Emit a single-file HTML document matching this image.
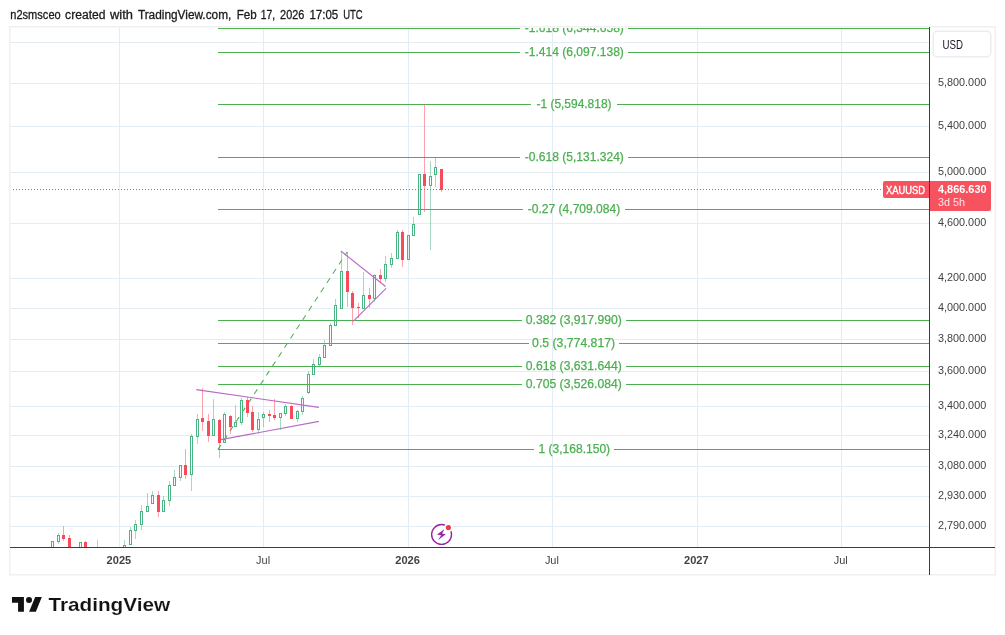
<!DOCTYPE html><html><head><meta charset="utf-8"><title>XAUUSD</title>
<style>html,body{margin:0;padding:0;background:#fff;}body{width:1005px;height:635px;overflow:hidden;font-family:"Liberation Sans",sans-serif;}svg{display:block;will-change:transform;}text{font-family:"Liberation Sans",sans-serif;}</style></head><body>
<svg width="1005" height="635" viewBox="0 0 1005 635">
<rect width="1005" height="635" fill="#fff"/>
<text x="10.3" y="19" font-size="12" fill="#1c1c1c" stroke="#1c1c1c" stroke-width="0.3" textLength="50.4" lengthAdjust="spacingAndGlyphs">n2smsceo</text>
<text x="65.1" y="19" font-size="12" fill="#1c1c1c" stroke="#1c1c1c" stroke-width="0.3" textLength="40.4" lengthAdjust="spacingAndGlyphs">created</text>
<text x="110" y="19" font-size="12" fill="#1c1c1c" stroke="#1c1c1c" stroke-width="0.3" textLength="22.9" lengthAdjust="spacingAndGlyphs">with</text>
<text x="137.9" y="19" font-size="12" fill="#1c1c1c" stroke="#1c1c1c" stroke-width="0.3" textLength="93.4" lengthAdjust="spacingAndGlyphs">TradingView.com,</text>
<text x="236.7" y="19" font-size="12" fill="#1c1c1c" stroke="#1c1c1c" stroke-width="0.3" textLength="19.9" lengthAdjust="spacingAndGlyphs">Feb</text>
<text x="260.8" y="19" font-size="12" fill="#1c1c1c" stroke="#1c1c1c" stroke-width="0.3" textLength="14.3" lengthAdjust="spacingAndGlyphs">17,</text>
<text x="280.1" y="19" font-size="12" fill="#1c1c1c" stroke="#1c1c1c" stroke-width="0.3" textLength="24.3" lengthAdjust="spacingAndGlyphs">2026</text>
<text x="309.4" y="19" font-size="12" fill="#1c1c1c" stroke="#1c1c1c" stroke-width="0.3" textLength="28.8" lengthAdjust="spacingAndGlyphs">17:05</text>
<text x="343.2" y="19" font-size="12" fill="#1c1c1c" stroke="#1c1c1c" stroke-width="0.3" textLength="19.5" lengthAdjust="spacingAndGlyphs">UTC</text>
<rect x="9.75" y="26.75" width="985.5" height="548" fill="none" stroke="#f0f0f1" stroke-width="1.5"/>
<defs><clipPath id="pane"><rect x="11" y="28" width="918" height="519"/></clipPath></defs>
<g shape-rendering="crispEdges" fill="#e4edf3">
<rect x="119" y="28" width="1" height="519"/>
<rect x="263" y="28" width="1" height="519"/>
<rect x="408" y="28" width="1" height="519"/>
<rect x="552" y="28" width="1" height="519"/>
<rect x="697" y="28" width="1" height="519"/>
<rect x="841" y="28" width="1" height="519"/>
<rect x="10" y="42" width="919" height="1"/>
<rect x="10" y="83" width="919" height="1"/>
<rect x="10" y="126" width="919" height="1"/>
<rect x="10" y="172" width="919" height="1"/>
<rect x="10" y="223" width="919" height="1"/>
<rect x="10" y="278" width="919" height="1"/>
<rect x="10" y="308" width="919" height="1"/>
<rect x="10" y="339" width="919" height="1"/>
<rect x="10" y="371" width="919" height="1"/>
<rect x="10" y="406" width="919" height="1"/>
<rect x="10" y="435" width="919" height="1"/>
<rect x="10" y="466" width="919" height="1"/>
<rect x="10" y="496" width="919" height="1"/>
<rect x="10" y="526" width="919" height="1"/>
</g>
<g clip-path="url(#pane)">
<g shape-rendering="crispEdges" fill="#4caf50"><rect x="218" y="28" width="302" height="1"/><rect x="628" y="28" width="301" height="1"/></g>
<text x="524.7" y="31.8" font-size="12" fill="#4caf50" stroke="#4caf50" stroke-width="0.25" textLength="99.2" lengthAdjust="spacingAndGlyphs">-1.618 (6,344.658)</text>
<g shape-rendering="crispEdges" fill="#4caf50"><rect x="218" y="52" width="302" height="1"/><rect x="628" y="52" width="301" height="1"/></g>
<text x="524.7" y="55.8" font-size="12" fill="#4caf50" stroke="#4caf50" stroke-width="0.25" textLength="99.2" lengthAdjust="spacingAndGlyphs">-1.414 (6,097.138)</text>
<g shape-rendering="crispEdges" fill="#4caf50"><rect x="218" y="104" width="313" height="1"/><rect x="617" y="104" width="312" height="1"/></g>
<text x="536.5" y="107.8" font-size="12" fill="#4caf50" stroke="#4caf50" stroke-width="0.25" textLength="75.0" lengthAdjust="spacingAndGlyphs">-1 (5,594.818)</text>
<g shape-rendering="crispEdges" fill="#4caf50"><rect x="218" y="157" width="302" height="1"/><rect x="628" y="157" width="301" height="1"/></g>
<text x="524.7" y="160.8" font-size="12" fill="#4caf50" stroke="#4caf50" stroke-width="0.25" textLength="99.2" lengthAdjust="spacingAndGlyphs">-0.618 (5,131.324)</text>
<g shape-rendering="crispEdges" fill="#4caf50"><rect x="218" y="209" width="305" height="1"/><rect x="625" y="209" width="304" height="1"/></g>
<text x="527.8" y="212.8" font-size="12" fill="#4caf50" stroke="#4caf50" stroke-width="0.25" textLength="92.4" lengthAdjust="spacingAndGlyphs">-0.27 (4,709.084)</text>
<g shape-rendering="crispEdges" fill="#4caf50"><rect x="218" y="320" width="304" height="1"/><rect x="626" y="320" width="303" height="1"/></g>
<text x="525.8" y="323.8" font-size="12" fill="#4caf50" stroke="#4caf50" stroke-width="0.25" textLength="96.0" lengthAdjust="spacingAndGlyphs">0.382 (3,917.990)</text>
<g shape-rendering="crispEdges" fill="#4caf50"><rect x="218" y="343" width="311" height="1"/><rect x="619" y="343" width="310" height="1"/></g>
<text x="532.1" y="346.8" font-size="12" fill="#4caf50" stroke="#4caf50" stroke-width="0.25" textLength="83.0" lengthAdjust="spacingAndGlyphs">0.5 (3,774.817)</text>
<g shape-rendering="crispEdges" fill="#4caf50"><rect x="218" y="366" width="304" height="1"/><rect x="626" y="366" width="303" height="1"/></g>
<text x="525.8" y="369.8" font-size="12" fill="#4caf50" stroke="#4caf50" stroke-width="0.25" textLength="96.0" lengthAdjust="spacingAndGlyphs">0.618 (3,631.644)</text>
<g shape-rendering="crispEdges" fill="#4caf50"><rect x="218" y="384" width="304" height="1"/><rect x="626" y="384" width="303" height="1"/></g>
<text x="525.8" y="387.8" font-size="12" fill="#4caf50" stroke="#4caf50" stroke-width="0.25" textLength="96.0" lengthAdjust="spacingAndGlyphs">0.705 (3,526.084)</text>
<g shape-rendering="crispEdges" fill="#4caf50"><rect x="218" y="449" width="316" height="1"/><rect x="614" y="449" width="315" height="1"/></g>
<text x="538.5" y="452.8" font-size="12" fill="#4caf50" stroke="#4caf50" stroke-width="0.25" textLength="71.6" lengthAdjust="spacingAndGlyphs">1 (3,168.150)</text>
<g stroke="#ba68c8" stroke-width="1.1" fill="none"><line x1="196.3" y1="389.6" x2="318.9" y2="407.4"/><line x1="219.5" y1="439.9" x2="318.9" y2="421.4"/><line x1="340.8" y1="251" x2="385.6" y2="286.5"/><line x1="353.2" y1="321.3" x2="386" y2="288.3"/></g>
<line x1="217.9" y1="449.6" x2="347.1" y2="252" stroke="#4caf50" stroke-width="1.05" stroke-dasharray="5.6 5.46"/>
<g shape-rendering="crispEdges">
<path fill-rule="evenodd" fill="#4cb383" d="M51 541h3v20h-3zM52 542h1v18h-1z"/>
<rect x="58" y="533" width="1" height="2" fill="#4cb383" fill-opacity="0.5"/>
<rect x="58" y="542" width="1" height="2" fill="#4cb383" fill-opacity="0.5"/>
<path fill-rule="evenodd" fill="#4cb383" d="M57 535h3v7h-3zM58 536h1v5h-1z"/>
<rect x="63" y="526" width="1" height="9" fill="#f94a5c" fill-opacity="0.5"/>
<rect x="63" y="539" width="1" height="2" fill="#f94a5c" fill-opacity="0.5"/>
<rect x="62" y="535" width="3" height="4" fill="#f94a5c"/>
<rect x="69" y="535" width="1" height="3" fill="#f94a5c" fill-opacity="0.5"/>
<rect x="68" y="538" width="3" height="23" fill="#f94a5c"/>
<path fill-rule="evenodd" fill="#4cb383" d="M79 542h3v19h-3zM80 543h1v17h-1z"/>
<rect x="85" y="541" width="1" height="1" fill="#f94a5c" fill-opacity="0.5"/>
<rect x="84" y="542" width="3" height="19" fill="#f94a5c"/>
<rect x="97" y="540" width="1" height="20" fill="#4cb383" fill-opacity="0.5"/>
<rect x="124" y="540" width="1" height="5" fill="#4cb383" fill-opacity="0.5"/>
<path fill-rule="evenodd" fill="#4cb383" d="M123 545h3v16h-3zM124 546h1v14h-1z"/>
<rect x="130" y="527" width="1" height="3" fill="#4cb383" fill-opacity="0.5"/>
<path fill-rule="evenodd" fill="#4cb383" d="M129 530h3v15h-3zM130 531h1v13h-1z"/>
<rect x="135" y="520" width="1" height="4" fill="#4cb383" fill-opacity="0.5"/>
<rect x="135" y="531" width="1" height="8" fill="#4cb383" fill-opacity="0.5"/>
<path fill-rule="evenodd" fill="#4cb383" d="M134 524h3v7h-3zM135 525h1v5h-1z"/>
<rect x="141" y="505" width="1" height="6" fill="#4cb383" fill-opacity="0.5"/>
<rect x="141" y="525" width="1" height="5" fill="#4cb383" fill-opacity="0.5"/>
<path fill-rule="evenodd" fill="#4cb383" d="M140 511h3v14h-3zM141 512h1v12h-1z"/>
<rect x="147" y="493" width="1" height="13" fill="#4cb383" fill-opacity="0.5"/>
<path fill-rule="evenodd" fill="#4cb383" d="M146 506h3v6h-3zM147 507h1v4h-1z"/>
<rect x="152" y="491" width="1" height="4" fill="#4cb383" fill-opacity="0.5"/>
<path fill-rule="evenodd" fill="#4cb383" d="M151 495h3v9h-3zM152 496h1v7h-1z"/>
<rect x="158" y="491" width="1" height="4" fill="#f94a5c" fill-opacity="0.5"/>
<rect x="158" y="512" width="1" height="5" fill="#f94a5c" fill-opacity="0.5"/>
<rect x="157" y="495" width="3" height="17" fill="#f94a5c"/>
<rect x="163" y="496" width="1" height="4" fill="#4cb383" fill-opacity="0.5"/>
<path fill-rule="evenodd" fill="#4cb383" d="M162 500h3v12h-3zM163 501h1v10h-1z"/>
<rect x="169" y="481" width="1" height="4" fill="#4cb383" fill-opacity="0.5"/>
<rect x="169" y="501" width="1" height="5" fill="#4cb383" fill-opacity="0.5"/>
<path fill-rule="evenodd" fill="#4cb383" d="M168 485h3v16h-3zM169 486h1v14h-1z"/>
<rect x="174" y="470" width="1" height="7" fill="#4cb383" fill-opacity="0.5"/>
<path fill-rule="evenodd" fill="#4cb383" d="M173 477h3v9h-3zM174 478h1v7h-1z"/>
<rect x="180" y="478" width="1" height="3" fill="#4cb383" fill-opacity="0.5"/>
<path fill-rule="evenodd" fill="#4cb383" d="M179 465h3v13h-3zM180 466h1v11h-1z"/>
<rect x="185" y="449" width="1" height="16" fill="#f94a5c" fill-opacity="0.5"/>
<rect x="185" y="475" width="1" height="4" fill="#f94a5c" fill-opacity="0.5"/>
<rect x="184" y="465" width="3" height="10" fill="#f94a5c"/>
<rect x="191" y="434" width="1" height="2" fill="#4cb383" fill-opacity="0.5"/>
<rect x="191" y="475" width="1" height="16" fill="#4cb383" fill-opacity="0.5"/>
<path fill-rule="evenodd" fill="#4cb383" d="M190 436h3v39h-3zM191 437h1v37h-1z"/>
<rect x="197" y="414" width="1" height="5" fill="#4cb383" fill-opacity="0.5"/>
<rect x="197" y="437" width="1" height="7" fill="#4cb383" fill-opacity="0.5"/>
<path fill-rule="evenodd" fill="#4cb383" d="M196 419h3v18h-3zM197 420h1v16h-1z"/>
<rect x="202" y="388" width="1" height="30" fill="#f94a5c" fill-opacity="0.5"/>
<rect x="202" y="422" width="1" height="9" fill="#f94a5c" fill-opacity="0.5"/>
<rect x="201" y="418" width="3" height="4" fill="#f94a5c"/>
<rect x="208" y="414" width="1" height="7" fill="#f94a5c" fill-opacity="0.5"/>
<rect x="208" y="436" width="1" height="6" fill="#f94a5c" fill-opacity="0.5"/>
<rect x="207" y="421" width="3" height="15" fill="#f94a5c"/>
<rect x="213" y="399" width="1" height="20" fill="#4cb383" fill-opacity="0.5"/>
<path fill-rule="evenodd" fill="#4cb383" d="M212 419h3v17h-3zM213 420h1v15h-1z"/>
<rect x="219" y="419" width="1" height="1" fill="#f94a5c" fill-opacity="0.5"/>
<rect x="219" y="443" width="1" height="15" fill="#f94a5c" fill-opacity="0.5"/>
<rect x="218" y="420" width="3" height="23" fill="#f94a5c"/>
<rect x="224" y="412" width="1" height="2" fill="#4cb383" fill-opacity="0.5"/>
<path fill-rule="evenodd" fill="#4cb383" d="M223 414h3v29h-3zM224 415h1v27h-1z"/>
<rect x="230" y="415" width="1" height="1" fill="#f94a5c" fill-opacity="0.5"/>
<rect x="230" y="427" width="1" height="7" fill="#f94a5c" fill-opacity="0.5"/>
<rect x="229" y="416" width="3" height="11" fill="#f94a5c"/>
<rect x="235" y="405" width="1" height="17" fill="#4cb383" fill-opacity="0.5"/>
<path fill-rule="evenodd" fill="#4cb383" d="M234 422h3v5h-3zM235 423h1v3h-1z"/>
<rect x="241" y="398" width="1" height="2" fill="#4cb383" fill-opacity="0.5"/>
<rect x="241" y="423" width="1" height="2" fill="#4cb383" fill-opacity="0.5"/>
<path fill-rule="evenodd" fill="#4cb383" d="M240 400h3v23h-3zM241 401h1v21h-1z"/>
<rect x="247" y="397" width="1" height="3" fill="#f94a5c" fill-opacity="0.5"/>
<rect x="247" y="413" width="1" height="4" fill="#f94a5c" fill-opacity="0.5"/>
<rect x="246" y="400" width="3" height="13" fill="#f94a5c"/>
<rect x="252" y="406" width="1" height="6" fill="#f94a5c" fill-opacity="0.5"/>
<rect x="252" y="430" width="1" height="2" fill="#f94a5c" fill-opacity="0.5"/>
<rect x="251" y="412" width="3" height="18" fill="#f94a5c"/>
<rect x="258" y="412" width="1" height="7" fill="#4cb383" fill-opacity="0.5"/>
<rect x="258" y="430" width="1" height="4" fill="#4cb383" fill-opacity="0.5"/>
<path fill-rule="evenodd" fill="#4cb383" d="M257 419h3v11h-3zM258 420h1v9h-1z"/>
<rect x="263" y="412" width="1" height="2" fill="#4cb383" fill-opacity="0.5"/>
<rect x="263" y="418" width="1" height="9" fill="#4cb383" fill-opacity="0.5"/>
<path fill-rule="evenodd" fill="#4cb383" d="M262 414h3v4h-3zM263 415h1v2h-1z"/>
<rect x="269" y="410" width="1" height="4" fill="#f94a5c" fill-opacity="0.5"/>
<rect x="269" y="416" width="1" height="6" fill="#f94a5c" fill-opacity="0.5"/>
<rect x="268" y="414" width="3" height="2" fill="#f94a5c"/>
<rect x="274" y="399" width="1" height="16" fill="#f94a5c" fill-opacity="0.5"/>
<rect x="274" y="418" width="1" height="2" fill="#f94a5c" fill-opacity="0.5"/>
<rect x="273" y="415" width="3" height="3" fill="#f94a5c"/>
<rect x="280" y="418" width="1" height="12" fill="#4cb383" fill-opacity="0.5"/>
<path fill-rule="evenodd" fill="#4cb383" d="M279 413h3v5h-3zM280 414h1v3h-1z"/>
<rect x="285" y="404" width="1" height="2" fill="#4cb383" fill-opacity="0.5"/>
<rect x="285" y="414" width="1" height="2" fill="#4cb383" fill-opacity="0.5"/>
<path fill-rule="evenodd" fill="#4cb383" d="M284 406h3v8h-3zM285 407h1v6h-1z"/>
<rect x="291" y="405" width="1" height="1" fill="#f94a5c" fill-opacity="0.5"/>
<rect x="290" y="406" width="3" height="13" fill="#f94a5c"/>
<rect x="297" y="410" width="1" height="1" fill="#4cb383" fill-opacity="0.5"/>
<rect x="297" y="419" width="1" height="3" fill="#4cb383" fill-opacity="0.5"/>
<path fill-rule="evenodd" fill="#4cb383" d="M296 411h3v8h-3zM297 412h1v6h-1z"/>
<rect x="302" y="396" width="1" height="2" fill="#4cb383" fill-opacity="0.5"/>
<rect x="302" y="412" width="1" height="3" fill="#4cb383" fill-opacity="0.5"/>
<path fill-rule="evenodd" fill="#4cb383" d="M301 398h3v14h-3zM302 399h1v12h-1z"/>
<rect x="308" y="371" width="1" height="3" fill="#4cb383" fill-opacity="0.5"/>
<rect x="308" y="393" width="1" height="1" fill="#4cb383" fill-opacity="0.5"/>
<path fill-rule="evenodd" fill="#4cb383" d="M307 374h3v19h-3zM308 375h1v17h-1z"/>
<rect x="313" y="359" width="1" height="5" fill="#4cb383" fill-opacity="0.5"/>
<path fill-rule="evenodd" fill="#4cb383" d="M312 364h3v11h-3zM313 365h1v9h-1z"/>
<rect x="319" y="354" width="1" height="3" fill="#4cb383" fill-opacity="0.5"/>
<rect x="319" y="365" width="1" height="2" fill="#4cb383" fill-opacity="0.5"/>
<path fill-rule="evenodd" fill="#4cb383" d="M318 357h3v8h-3zM319 358h1v6h-1z"/>
<rect x="324" y="340" width="1" height="5" fill="#4cb383" fill-opacity="0.5"/>
<path fill-rule="evenodd" fill="#4cb383" d="M323 345h3v13h-3zM324 346h1v11h-1z"/>
<rect x="330" y="323" width="1" height="2" fill="#4cb383" fill-opacity="0.5"/>
<path fill-rule="evenodd" fill="#4cb383" d="M329 325h3v21h-3zM330 326h1v19h-1z"/>
<rect x="335" y="299" width="1" height="6" fill="#4cb383" fill-opacity="0.5"/>
<path fill-rule="evenodd" fill="#4cb383" d="M334 305h3v21h-3zM335 306h1v19h-1z"/>
<rect x="341" y="252" width="1" height="19" fill="#4cb383" fill-opacity="0.5"/>
<path fill-rule="evenodd" fill="#4cb383" d="M340 271h3v38h-3zM341 272h1v36h-1z"/>
<rect x="347" y="252" width="1" height="19" fill="#f94a5c" fill-opacity="0.5"/>
<rect x="347" y="292" width="1" height="15" fill="#f94a5c" fill-opacity="0.5"/>
<rect x="346" y="271" width="3" height="21" fill="#f94a5c"/>
<rect x="352" y="291" width="1" height="2" fill="#f94a5c" fill-opacity="0.5"/>
<rect x="352" y="308" width="1" height="17" fill="#f94a5c" fill-opacity="0.5"/>
<rect x="351" y="293" width="3" height="15" fill="#f94a5c"/>
<rect x="358" y="303" width="1" height="4" fill="#f94a5c" fill-opacity="0.5"/>
<rect x="358" y="308" width="1" height="10" fill="#f94a5c" fill-opacity="0.5"/>
<rect x="357" y="307" width="3" height="1" fill="#f94a5c"/>
<rect x="363" y="272" width="1" height="23" fill="#4cb383" fill-opacity="0.5"/>
<path fill-rule="evenodd" fill="#4cb383" d="M362 295h3v14h-3zM363 296h1v12h-1z"/>
<rect x="369" y="288" width="1" height="7" fill="#f94a5c" fill-opacity="0.5"/>
<rect x="369" y="299" width="1" height="9" fill="#f94a5c" fill-opacity="0.5"/>
<rect x="368" y="295" width="3" height="4" fill="#f94a5c"/>
<rect x="374" y="274" width="1" height="1" fill="#4cb383" fill-opacity="0.5"/>
<rect x="374" y="299" width="1" height="3" fill="#4cb383" fill-opacity="0.5"/>
<path fill-rule="evenodd" fill="#4cb383" d="M373 275h3v24h-3zM374 276h1v22h-1z"/>
<rect x="380" y="269" width="1" height="6" fill="#f94a5c" fill-opacity="0.5"/>
<rect x="380" y="279" width="1" height="4" fill="#f94a5c" fill-opacity="0.5"/>
<rect x="379" y="275" width="3" height="4" fill="#f94a5c"/>
<rect x="385" y="256" width="1" height="8" fill="#4cb383" fill-opacity="0.5"/>
<rect x="385" y="279" width="1" height="3" fill="#4cb383" fill-opacity="0.5"/>
<path fill-rule="evenodd" fill="#4cb383" d="M384 264h3v15h-3zM385 265h1v13h-1z"/>
<rect x="391" y="253" width="1" height="5" fill="#4cb383" fill-opacity="0.5"/>
<rect x="391" y="265" width="1" height="3" fill="#4cb383" fill-opacity="0.5"/>
<path fill-rule="evenodd" fill="#4cb383" d="M390 258h3v7h-3zM391 259h1v5h-1z"/>
<rect x="397" y="230" width="1" height="2" fill="#4cb383" fill-opacity="0.5"/>
<path fill-rule="evenodd" fill="#4cb383" d="M396 232h3v27h-3zM397 233h1v25h-1z"/>
<rect x="402" y="230" width="1" height="2" fill="#f94a5c" fill-opacity="0.5"/>
<rect x="402" y="260" width="1" height="7" fill="#f94a5c" fill-opacity="0.5"/>
<rect x="401" y="232" width="3" height="28" fill="#f94a5c"/>
<path fill-rule="evenodd" fill="#4cb383" d="M407 235h3v25h-3zM408 236h1v23h-1z"/>
<rect x="413" y="217" width="1" height="7" fill="#4cb383" fill-opacity="0.5"/>
<path fill-rule="evenodd" fill="#4cb383" d="M412 224h3v12h-3zM413 225h1v10h-1z"/>
<path fill-rule="evenodd" fill="#4cb383" d="M418 174h3v41h-3zM419 175h1v39h-1z"/>
<rect x="424" y="104" width="1" height="70" fill="#f94a5c" fill-opacity="0.5"/>
<rect x="424" y="186" width="1" height="26" fill="#f94a5c" fill-opacity="0.5"/>
<rect x="423" y="174" width="3" height="12" fill="#f94a5c"/>
<rect x="430" y="161" width="1" height="15" fill="#4cb383" fill-opacity="0.5"/>
<rect x="430" y="186" width="1" height="64" fill="#4cb383" fill-opacity="0.5"/>
<path fill-rule="evenodd" fill="#4cb383" d="M429 176h3v10h-3zM430 177h1v8h-1z"/>
<rect x="435" y="158" width="1" height="9" fill="#4cb383" fill-opacity="0.5"/>
<rect x="435" y="175" width="1" height="12" fill="#4cb383" fill-opacity="0.5"/>
<path fill-rule="evenodd" fill="#4cb383" d="M434 167h3v8h-3zM435 168h1v6h-1z"/>
<rect x="441" y="190" width="1" height="2" fill="#f94a5c" fill-opacity="0.5"/>
<rect x="440" y="169" width="3" height="21" fill="#f94a5c"/>
</g>
<g shape-rendering="crispEdges" fill="#f7485a">
<rect x="10" y="189" width="1" height="1"/>
<rect x="13" y="189" width="1" height="1"/>
<rect x="16" y="189" width="1" height="1"/>
<rect x="19" y="189" width="1" height="1"/>
<rect x="22" y="189" width="1" height="1"/>
<rect x="25" y="189" width="1" height="1"/>
<rect x="28" y="189" width="1" height="1"/>
<rect x="31" y="189" width="1" height="1"/>
<rect x="34" y="189" width="1" height="1"/>
<rect x="37" y="189" width="1" height="1"/>
<rect x="40" y="189" width="1" height="1"/>
<rect x="43" y="189" width="1" height="1"/>
<rect x="46" y="189" width="1" height="1"/>
<rect x="49" y="189" width="1" height="1"/>
<rect x="52" y="189" width="1" height="1"/>
<rect x="55" y="189" width="1" height="1"/>
<rect x="58" y="189" width="1" height="1"/>
<rect x="61" y="189" width="1" height="1"/>
<rect x="64" y="189" width="1" height="1"/>
<rect x="67" y="189" width="1" height="1"/>
<rect x="70" y="189" width="1" height="1"/>
<rect x="73" y="189" width="1" height="1"/>
<rect x="76" y="189" width="1" height="1"/>
<rect x="79" y="189" width="1" height="1"/>
<rect x="82" y="189" width="1" height="1"/>
<rect x="85" y="189" width="1" height="1"/>
<rect x="88" y="189" width="1" height="1"/>
<rect x="91" y="189" width="1" height="1"/>
<rect x="94" y="189" width="1" height="1"/>
<rect x="97" y="189" width="1" height="1"/>
<rect x="100" y="189" width="1" height="1"/>
<rect x="103" y="189" width="1" height="1"/>
<rect x="106" y="189" width="1" height="1"/>
<rect x="109" y="189" width="1" height="1"/>
<rect x="112" y="189" width="1" height="1"/>
<rect x="115" y="189" width="1" height="1"/>
<rect x="118" y="189" width="1" height="1"/>
<rect x="121" y="189" width="1" height="1"/>
<rect x="124" y="189" width="1" height="1"/>
<rect x="127" y="189" width="1" height="1"/>
<rect x="130" y="189" width="1" height="1"/>
<rect x="133" y="189" width="1" height="1"/>
<rect x="136" y="189" width="1" height="1"/>
<rect x="139" y="189" width="1" height="1"/>
<rect x="142" y="189" width="1" height="1"/>
<rect x="145" y="189" width="1" height="1"/>
<rect x="148" y="189" width="1" height="1"/>
<rect x="151" y="189" width="1" height="1"/>
<rect x="154" y="189" width="1" height="1"/>
<rect x="157" y="189" width="1" height="1"/>
<rect x="160" y="189" width="1" height="1"/>
<rect x="163" y="189" width="1" height="1"/>
<rect x="166" y="189" width="1" height="1"/>
<rect x="169" y="189" width="1" height="1"/>
<rect x="172" y="189" width="1" height="1"/>
<rect x="175" y="189" width="1" height="1"/>
<rect x="178" y="189" width="1" height="1"/>
<rect x="181" y="189" width="1" height="1"/>
<rect x="184" y="189" width="1" height="1"/>
<rect x="187" y="189" width="1" height="1"/>
<rect x="190" y="189" width="1" height="1"/>
<rect x="193" y="189" width="1" height="1"/>
<rect x="196" y="189" width="1" height="1"/>
<rect x="199" y="189" width="1" height="1"/>
<rect x="202" y="189" width="1" height="1"/>
<rect x="205" y="189" width="1" height="1"/>
<rect x="208" y="189" width="1" height="1"/>
<rect x="211" y="189" width="1" height="1"/>
<rect x="214" y="189" width="1" height="1"/>
<rect x="217" y="189" width="1" height="1"/>
<rect x="220" y="189" width="1" height="1"/>
<rect x="223" y="189" width="1" height="1"/>
<rect x="226" y="189" width="1" height="1"/>
<rect x="229" y="189" width="1" height="1"/>
<rect x="232" y="189" width="1" height="1"/>
<rect x="235" y="189" width="1" height="1"/>
<rect x="238" y="189" width="1" height="1"/>
<rect x="241" y="189" width="1" height="1"/>
<rect x="244" y="189" width="1" height="1"/>
<rect x="247" y="189" width="1" height="1"/>
<rect x="250" y="189" width="1" height="1"/>
<rect x="253" y="189" width="1" height="1"/>
<rect x="256" y="189" width="1" height="1"/>
<rect x="259" y="189" width="1" height="1"/>
<rect x="262" y="189" width="1" height="1"/>
<rect x="265" y="189" width="1" height="1"/>
<rect x="268" y="189" width="1" height="1"/>
<rect x="271" y="189" width="1" height="1"/>
<rect x="274" y="189" width="1" height="1"/>
<rect x="277" y="189" width="1" height="1"/>
<rect x="280" y="189" width="1" height="1"/>
<rect x="283" y="189" width="1" height="1"/>
<rect x="286" y="189" width="1" height="1"/>
<rect x="289" y="189" width="1" height="1"/>
<rect x="292" y="189" width="1" height="1"/>
<rect x="295" y="189" width="1" height="1"/>
<rect x="298" y="189" width="1" height="1"/>
<rect x="301" y="189" width="1" height="1"/>
<rect x="304" y="189" width="1" height="1"/>
<rect x="307" y="189" width="1" height="1"/>
<rect x="310" y="189" width="1" height="1"/>
<rect x="313" y="189" width="1" height="1"/>
<rect x="316" y="189" width="1" height="1"/>
<rect x="319" y="189" width="1" height="1"/>
<rect x="322" y="189" width="1" height="1"/>
<rect x="325" y="189" width="1" height="1"/>
<rect x="328" y="189" width="1" height="1"/>
<rect x="331" y="189" width="1" height="1"/>
<rect x="334" y="189" width="1" height="1"/>
<rect x="337" y="189" width="1" height="1"/>
<rect x="340" y="189" width="1" height="1"/>
<rect x="343" y="189" width="1" height="1"/>
<rect x="346" y="189" width="1" height="1"/>
<rect x="349" y="189" width="1" height="1"/>
<rect x="352" y="189" width="1" height="1"/>
<rect x="355" y="189" width="1" height="1"/>
<rect x="358" y="189" width="1" height="1"/>
<rect x="361" y="189" width="1" height="1"/>
<rect x="364" y="189" width="1" height="1"/>
<rect x="367" y="189" width="1" height="1"/>
<rect x="370" y="189" width="1" height="1"/>
<rect x="373" y="189" width="1" height="1"/>
<rect x="376" y="189" width="1" height="1"/>
<rect x="379" y="189" width="1" height="1"/>
<rect x="382" y="189" width="1" height="1"/>
<rect x="385" y="189" width="1" height="1"/>
<rect x="388" y="189" width="1" height="1"/>
<rect x="391" y="189" width="1" height="1"/>
<rect x="394" y="189" width="1" height="1"/>
<rect x="397" y="189" width="1" height="1"/>
<rect x="400" y="189" width="1" height="1"/>
<rect x="403" y="189" width="1" height="1"/>
<rect x="406" y="189" width="1" height="1"/>
<rect x="409" y="189" width="1" height="1"/>
<rect x="412" y="189" width="1" height="1"/>
<rect x="415" y="189" width="1" height="1"/>
<rect x="418" y="189" width="1" height="1"/>
<rect x="421" y="189" width="1" height="1"/>
<rect x="424" y="189" width="1" height="1"/>
<rect x="427" y="189" width="1" height="1"/>
<rect x="430" y="189" width="1" height="1"/>
<rect x="433" y="189" width="1" height="1"/>
<rect x="436" y="189" width="1" height="1"/>
<rect x="439" y="189" width="1" height="1"/>
<rect x="442" y="189" width="1" height="1"/>
<rect x="445" y="189" width="1" height="1"/>
<rect x="448" y="189" width="1" height="1"/>
<rect x="451" y="189" width="1" height="1"/>
<rect x="454" y="189" width="1" height="1"/>
<rect x="457" y="189" width="1" height="1"/>
<rect x="460" y="189" width="1" height="1"/>
<rect x="463" y="189" width="1" height="1"/>
<rect x="466" y="189" width="1" height="1"/>
<rect x="469" y="189" width="1" height="1"/>
<rect x="472" y="189" width="1" height="1"/>
<rect x="475" y="189" width="1" height="1"/>
<rect x="478" y="189" width="1" height="1"/>
<rect x="481" y="189" width="1" height="1"/>
<rect x="484" y="189" width="1" height="1"/>
<rect x="487" y="189" width="1" height="1"/>
<rect x="490" y="189" width="1" height="1"/>
<rect x="493" y="189" width="1" height="1"/>
<rect x="496" y="189" width="1" height="1"/>
<rect x="499" y="189" width="1" height="1"/>
<rect x="502" y="189" width="1" height="1"/>
<rect x="505" y="189" width="1" height="1"/>
<rect x="508" y="189" width="1" height="1"/>
<rect x="511" y="189" width="1" height="1"/>
<rect x="514" y="189" width="1" height="1"/>
<rect x="517" y="189" width="1" height="1"/>
<rect x="520" y="189" width="1" height="1"/>
<rect x="523" y="189" width="1" height="1"/>
<rect x="526" y="189" width="1" height="1"/>
<rect x="529" y="189" width="1" height="1"/>
<rect x="532" y="189" width="1" height="1"/>
<rect x="535" y="189" width="1" height="1"/>
<rect x="538" y="189" width="1" height="1"/>
<rect x="541" y="189" width="1" height="1"/>
<rect x="544" y="189" width="1" height="1"/>
<rect x="547" y="189" width="1" height="1"/>
<rect x="550" y="189" width="1" height="1"/>
<rect x="553" y="189" width="1" height="1"/>
<rect x="556" y="189" width="1" height="1"/>
<rect x="559" y="189" width="1" height="1"/>
<rect x="562" y="189" width="1" height="1"/>
<rect x="565" y="189" width="1" height="1"/>
<rect x="568" y="189" width="1" height="1"/>
<rect x="571" y="189" width="1" height="1"/>
<rect x="574" y="189" width="1" height="1"/>
<rect x="577" y="189" width="1" height="1"/>
<rect x="580" y="189" width="1" height="1"/>
<rect x="583" y="189" width="1" height="1"/>
<rect x="586" y="189" width="1" height="1"/>
<rect x="589" y="189" width="1" height="1"/>
<rect x="592" y="189" width="1" height="1"/>
<rect x="595" y="189" width="1" height="1"/>
<rect x="598" y="189" width="1" height="1"/>
<rect x="601" y="189" width="1" height="1"/>
<rect x="604" y="189" width="1" height="1"/>
<rect x="607" y="189" width="1" height="1"/>
<rect x="610" y="189" width="1" height="1"/>
<rect x="613" y="189" width="1" height="1"/>
<rect x="616" y="189" width="1" height="1"/>
<rect x="619" y="189" width="1" height="1"/>
<rect x="622" y="189" width="1" height="1"/>
<rect x="625" y="189" width="1" height="1"/>
<rect x="628" y="189" width="1" height="1"/>
<rect x="631" y="189" width="1" height="1"/>
<rect x="634" y="189" width="1" height="1"/>
<rect x="637" y="189" width="1" height="1"/>
<rect x="640" y="189" width="1" height="1"/>
<rect x="643" y="189" width="1" height="1"/>
<rect x="646" y="189" width="1" height="1"/>
<rect x="649" y="189" width="1" height="1"/>
<rect x="652" y="189" width="1" height="1"/>
<rect x="655" y="189" width="1" height="1"/>
<rect x="658" y="189" width="1" height="1"/>
<rect x="661" y="189" width="1" height="1"/>
<rect x="664" y="189" width="1" height="1"/>
<rect x="667" y="189" width="1" height="1"/>
<rect x="670" y="189" width="1" height="1"/>
<rect x="673" y="189" width="1" height="1"/>
<rect x="676" y="189" width="1" height="1"/>
<rect x="679" y="189" width="1" height="1"/>
<rect x="682" y="189" width="1" height="1"/>
<rect x="685" y="189" width="1" height="1"/>
<rect x="688" y="189" width="1" height="1"/>
<rect x="691" y="189" width="1" height="1"/>
<rect x="694" y="189" width="1" height="1"/>
<rect x="697" y="189" width="1" height="1"/>
<rect x="700" y="189" width="1" height="1"/>
<rect x="703" y="189" width="1" height="1"/>
<rect x="706" y="189" width="1" height="1"/>
<rect x="709" y="189" width="1" height="1"/>
<rect x="712" y="189" width="1" height="1"/>
<rect x="715" y="189" width="1" height="1"/>
<rect x="718" y="189" width="1" height="1"/>
<rect x="721" y="189" width="1" height="1"/>
<rect x="724" y="189" width="1" height="1"/>
<rect x="727" y="189" width="1" height="1"/>
<rect x="730" y="189" width="1" height="1"/>
<rect x="733" y="189" width="1" height="1"/>
<rect x="736" y="189" width="1" height="1"/>
<rect x="739" y="189" width="1" height="1"/>
<rect x="742" y="189" width="1" height="1"/>
<rect x="745" y="189" width="1" height="1"/>
<rect x="748" y="189" width="1" height="1"/>
<rect x="751" y="189" width="1" height="1"/>
<rect x="754" y="189" width="1" height="1"/>
<rect x="757" y="189" width="1" height="1"/>
<rect x="760" y="189" width="1" height="1"/>
<rect x="763" y="189" width="1" height="1"/>
<rect x="766" y="189" width="1" height="1"/>
<rect x="769" y="189" width="1" height="1"/>
<rect x="772" y="189" width="1" height="1"/>
<rect x="775" y="189" width="1" height="1"/>
<rect x="778" y="189" width="1" height="1"/>
<rect x="781" y="189" width="1" height="1"/>
<rect x="784" y="189" width="1" height="1"/>
<rect x="787" y="189" width="1" height="1"/>
<rect x="790" y="189" width="1" height="1"/>
<rect x="793" y="189" width="1" height="1"/>
<rect x="796" y="189" width="1" height="1"/>
<rect x="799" y="189" width="1" height="1"/>
<rect x="802" y="189" width="1" height="1"/>
<rect x="805" y="189" width="1" height="1"/>
<rect x="808" y="189" width="1" height="1"/>
<rect x="811" y="189" width="1" height="1"/>
<rect x="814" y="189" width="1" height="1"/>
<rect x="817" y="189" width="1" height="1"/>
<rect x="820" y="189" width="1" height="1"/>
<rect x="823" y="189" width="1" height="1"/>
<rect x="826" y="189" width="1" height="1"/>
<rect x="829" y="189" width="1" height="1"/>
<rect x="832" y="189" width="1" height="1"/>
<rect x="835" y="189" width="1" height="1"/>
<rect x="838" y="189" width="1" height="1"/>
<rect x="841" y="189" width="1" height="1"/>
<rect x="844" y="189" width="1" height="1"/>
<rect x="847" y="189" width="1" height="1"/>
<rect x="850" y="189" width="1" height="1"/>
<rect x="853" y="189" width="1" height="1"/>
<rect x="856" y="189" width="1" height="1"/>
<rect x="859" y="189" width="1" height="1"/>
<rect x="862" y="189" width="1" height="1"/>
<rect x="865" y="189" width="1" height="1"/>
<rect x="868" y="189" width="1" height="1"/>
<rect x="871" y="189" width="1" height="1"/>
<rect x="874" y="189" width="1" height="1"/>
<rect x="877" y="189" width="1" height="1"/>
<rect x="880" y="189" width="1" height="1"/>
<rect x="883" y="189" width="1" height="1"/>
<rect x="886" y="189" width="1" height="1"/>
<rect x="889" y="189" width="1" height="1"/>
<rect x="892" y="189" width="1" height="1"/>
<rect x="895" y="189" width="1" height="1"/>
<rect x="898" y="189" width="1" height="1"/>
<rect x="901" y="189" width="1" height="1"/>
<rect x="904" y="189" width="1" height="1"/>
<rect x="907" y="189" width="1" height="1"/>
<rect x="910" y="189" width="1" height="1"/>
<rect x="913" y="189" width="1" height="1"/>
<rect x="916" y="189" width="1" height="1"/>
<rect x="919" y="189" width="1" height="1"/>
<rect x="922" y="189" width="1" height="1"/>
<rect x="925" y="189" width="1" height="1"/>
<rect x="928" y="189" width="1" height="1"/>
</g>
<g><circle cx="441.57" cy="534.44" r="12" fill="#fff"/><circle cx="441.57" cy="534.44" r="9.95" fill="none" stroke="#9423ac" stroke-width="1.35"/><path d="M444.1 529.4 L437.2 534.5 L441.3 535.15 L438.4 539.8 L445.6 534.25 L442 533.7 Z" fill="#9423ac" stroke="#9423ac" stroke-width="0.2" stroke-linejoin="round"/><circle cx="448.4" cy="527.57" r="4.5" fill="#fff"/><circle cx="448.4" cy="527.57" r="2.55" fill="#f23645"/></g>
</g>
<path d="M885 181 H929 V198 H885 a2 2 0 0 1 -2 -2 V183 a2 2 0 0 1 2 -2 Z" fill="#f7525f"/>
<text x="886" y="194.1" font-size="11" fill="#fff" stroke="#fff" stroke-width="0.4" textLength="39" lengthAdjust="spacingAndGlyphs">XAUUSD</text>
<g shape-rendering="crispEdges" fill="#3d3d3d"><rect x="929" y="27" width="1" height="548"/><rect x="10" y="547" width="985" height="1"/></g>
<path d="M930 181 H989 a2 2 0 0 1 2 2 V209 a2 2 0 0 1 -2 2 H930 Z" fill="#f7525f"/>
<text x="938" y="192.7" font-size="11" fill="#fff" font-weight="bold" textLength="48.6" lengthAdjust="spacingAndGlyphs">4,866.630</text>
<text x="938" y="206.2" font-size="11" fill="#fff" fill-opacity="0.85" textLength="27" lengthAdjust="spacingAndGlyphs">3d 5h</text>
<rect x="933.2" y="31.2" width="57.6" height="25.6" rx="4" fill="#fff" stroke="#ececee" stroke-width="1.4"/>
<text x="942.4" y="48.7" font-size="12" fill="#131722" textLength="20.5" lengthAdjust="spacingAndGlyphs">USD</text>
<text x="938" y="85.9" font-size="11" fill="#424242" textLength="48.2" lengthAdjust="spacingAndGlyphs">5,800.000</text>
<text x="938" y="128.9" font-size="11" fill="#424242" textLength="48.2" lengthAdjust="spacingAndGlyphs">5,400.000</text>
<text x="938" y="174.9" font-size="11" fill="#424242" textLength="48.2" lengthAdjust="spacingAndGlyphs">5,000.000</text>
<text x="938" y="225.9" font-size="11" fill="#424242" textLength="48.2" lengthAdjust="spacingAndGlyphs">4,600.000</text>
<text x="938" y="280.9" font-size="11" fill="#424242" textLength="48.2" lengthAdjust="spacingAndGlyphs">4,200.000</text>
<text x="938" y="310.9" font-size="11" fill="#424242" textLength="48.2" lengthAdjust="spacingAndGlyphs">4,000.000</text>
<text x="938" y="341.9" font-size="11" fill="#424242" textLength="48.2" lengthAdjust="spacingAndGlyphs">3,800.000</text>
<text x="938" y="373.9" font-size="11" fill="#424242" textLength="48.2" lengthAdjust="spacingAndGlyphs">3,600.000</text>
<text x="938" y="408.9" font-size="11" fill="#424242" textLength="48.2" lengthAdjust="spacingAndGlyphs">3,400.000</text>
<text x="938" y="437.9" font-size="11" fill="#424242" textLength="48.2" lengthAdjust="spacingAndGlyphs">3,240.000</text>
<text x="938" y="468.9" font-size="11" fill="#424242" textLength="48.2" lengthAdjust="spacingAndGlyphs">3,080.000</text>
<text x="938" y="498.9" font-size="11" fill="#424242" textLength="48.2" lengthAdjust="spacingAndGlyphs">2,930.000</text>
<text x="938" y="528.9" font-size="11" fill="#424242" textLength="48.2" lengthAdjust="spacingAndGlyphs">2,790.000</text>
<text x="106.60000000000001" y="564" font-size="11" fill="#424242" font-weight="bold" textLength="24.6" lengthAdjust="spacingAndGlyphs">2025</text>
<text x="256.1" y="564" font-size="11" fill="#424242" textLength="14" lengthAdjust="spacingAndGlyphs">Jul</text>
<text x="395.3" y="564" font-size="11" fill="#424242" font-weight="bold" textLength="24.6" lengthAdjust="spacingAndGlyphs">2026</text>
<text x="544.9" y="564" font-size="11" fill="#424242" textLength="14" lengthAdjust="spacingAndGlyphs">Jul</text>
<text x="684.0" y="564" font-size="11" fill="#424242" font-weight="bold" textLength="24.6" lengthAdjust="spacingAndGlyphs">2027</text>
<text x="833.7" y="564" font-size="11" fill="#424242" textLength="14" lengthAdjust="spacingAndGlyphs">Jul</text>
<g fill="#121212"><path d="M11.98 597.05H23.92V611.8H18.07V602.75H11.98Z"/><circle cx="29.03" cy="599.9" r="3.0"/><path d="M35.18 597.05H41.83L35.86 611.8H29.09Z"/></g>
<text x="48.4" y="611.3" font-size="18.8" font-weight="bold" fill="#121212" stroke="#fff" stroke-width="0.12" textLength="121.8" lengthAdjust="spacingAndGlyphs">TradingView</text>
</svg></body></html>
